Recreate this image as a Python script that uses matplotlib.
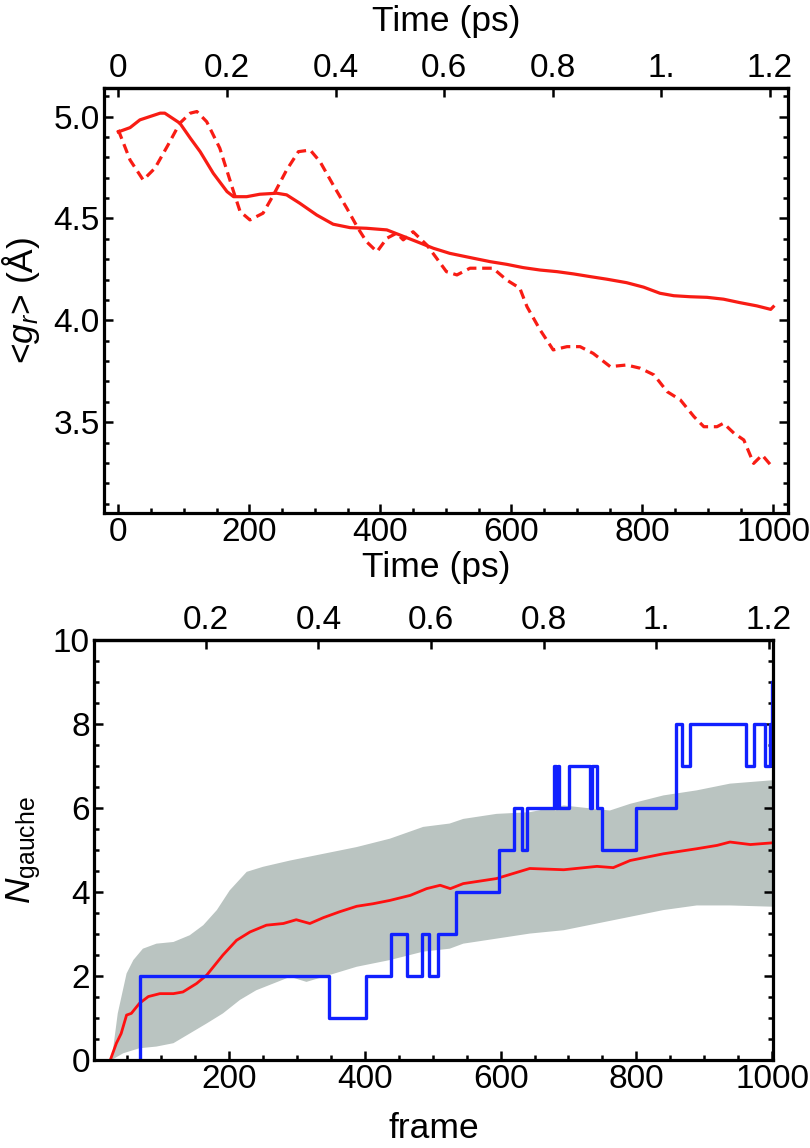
#gr and gauche count vs time, two stacked panels
import matplotlib
matplotlib.use("Agg")
import matplotlib.pyplot as plt
import numpy as np

plt.rcParams['font.family'] = ['Liberation Sans', 'DejaVu Sans']
plt.rcParams['mathtext.fontset'] = 'custom'
plt.rcParams['mathtext.rm'] = 'Liberation Sans'
plt.rcParams['mathtext.it'] = 'Liberation Sans:italic'
plt.rcParams['mathtext.bf'] = 'Liberation Sans:bold'
plt.rcParams['font.size'] = 24
plt.rcParams['axes.labelsize'] = 25.5

# ---- top panel: <g_r> vs time
t_solid = [0, 18, 33, 48, 64, 71, 94, 110, 125, 145, 166, 176, 196, 216, 242, 257, 277,
           303, 328, 354, 379, 410, 430, 456, 481, 506, 542, 568, 593, 618, 644, 670, 695,
           720, 746, 776, 802, 827, 848, 873, 899, 924, 949, 975, 996, 1000]
gr_solid = [4.925, 4.946, 4.984, 5.000, 5.017, 5.017, 4.968, 4.894, 4.828, 4.722, 4.632,
            4.607, 4.607, 4.619, 4.624, 4.616, 4.575, 4.517, 4.472, 4.455, 4.452, 4.444,
            4.419, 4.386, 4.354, 4.329, 4.305, 4.288, 4.275, 4.259, 4.247, 4.239, 4.228,
            4.215, 4.202, 4.185, 4.163, 4.133, 4.121, 4.116, 4.113, 4.104, 4.087, 4.071,
            4.054, 4.067]

t_dash = [0, 18, 38, 56, 76, 94, 110, 120, 135, 155, 176, 186, 201, 221, 237, 257, 275,
          293, 308, 328, 349, 366, 379, 395, 410, 425, 435, 450, 471, 486, 501, 517, 537,
          557, 572, 593, 613, 624, 644, 664, 685, 705, 725, 751, 776, 797, 818, 838, 858,
          879, 894, 914, 924, 940, 955, 970, 983, 996]
gr_dash = [4.935, 4.787, 4.689, 4.747, 4.861, 4.968, 5.017, 5.025, 4.975, 4.845, 4.632,
           4.534, 4.493, 4.526, 4.616, 4.738, 4.828, 4.836, 4.779, 4.665, 4.550, 4.452,
           4.386, 4.337, 4.403, 4.428, 4.395, 4.435, 4.370, 4.305, 4.239, 4.223, 4.256,
           4.256, 4.256, 4.198, 4.158, 4.067, 3.953, 3.855, 3.871, 3.871, 3.838, 3.773,
           3.781, 3.765, 3.732, 3.650, 3.610, 3.527, 3.478, 3.478, 3.495, 3.446, 3.413,
           3.298, 3.339, 3.290]

# ---- bottom panel: N_gauche vs frame
frame_step = [69, 69, 347, 401, 438, 462, 484, 494, 508, 534, 598, 620, 631, 639, 679, 681,
              684, 686, 701, 732, 734, 742, 750, 800, 859, 867, 879, 962, 974, 990, 997, 1000]
n_step = [0, 2, 1, 2, 3, 2, 3, 2, 3, 4, 5, 6, 5, 6, 7, 6,
          7, 6, 7, 6, 7, 6, 5, 6, 8, 7, 8, 7, 8, 7, 8, 9]

frame_mean = [25, 34, 41, 49, 56, 68, 81, 98, 118, 132, 152, 167, 191, 211, 231, 255, 280,
              299, 319, 339, 363, 388, 412, 437, 467, 491, 511, 526, 545, 594, 643, 693,
              742, 766, 791, 840, 889, 919, 938, 968, 1000]
n_mean = [0.0, 0.40, 0.63, 1.07, 1.11, 1.35, 1.51, 1.58, 1.58, 1.62, 1.82, 2.02, 2.50, 2.85,
          3.05, 3.21, 3.25, 3.34, 3.25, 3.39, 3.53, 3.66, 3.72, 3.80, 3.92, 4.08, 4.16,
          4.08, 4.20, 4.32, 4.56, 4.53, 4.61, 4.58, 4.75, 4.91, 5.03, 5.11, 5.19, 5.13, 5.17]

frame_hi = [27, 36, 49, 59, 73, 93, 118, 142, 162, 182, 201, 226, 250, 290, 339, 388, 437,
            486, 525, 545, 594, 643, 693, 761, 791, 840, 889, 938, 1000]
n_hi = [0.0, 1.11, 2.06, 2.38, 2.65, 2.77, 2.81, 2.97, 3.21, 3.57, 4.04, 4.48, 4.60, 4.75,
        4.91, 5.07, 5.27, 5.55, 5.63, 5.74, 5.86, 5.90, 6.06, 5.94, 6.10, 6.30, 6.42, 6.58,
        6.66]
frame_lo = [27, 44, 68, 93, 118, 142, 167, 191, 216, 240, 265, 290, 314, 339, 388, 437,
            486, 525, 545, 594, 643, 693, 742, 791, 840, 889, 938, 1000]
n_lo = [0.0, 0.16, 0.28, 0.32, 0.40, 0.63, 0.87, 1.11, 1.43, 1.66, 1.82, 1.98, 1.86, 1.98,
        2.22, 2.38, 2.58, 2.65, 2.77, 2.89, 3.01, 3.09, 3.25, 3.41, 3.57, 3.68, 3.68, 3.65]

ps_ticks = [0, 0.2, 0.4, 0.6, 0.8, 1.0, 1.2]
ps_labels = ['0', '0.2', '0.4', '0.6', '0.8', '1.', '1.2']
k = 1.2 / 995.0   # ps per frame


def frame_box(ax):
    for s in ax.spines.values():
        s.set_linewidth(2.3)
    ax.tick_params(which='both', direction='in', left=True, right=True, top=False,
                   bottom=True, width=1.8, pad=3)
    ax.tick_params(which='major', length=6.5)
    ax.tick_params(which='minor', length=3.5)


def ps_axis(ax, ticks, labels):
    sec = ax.secondary_xaxis('top', functions=(lambda x: x * k, lambda t: t / k))
    sec.set_xticks(ticks, labels)
    sec.tick_params(direction='in', length=6.5, width=1.8, pad=3)
    sec.spines['top'].set_linewidth(2.3)
    return sec


fig = plt.figure(figsize=(8.1, 11.48), dpi=100)

# top panel
ax1 = fig.add_axes([104/810, 1 - 512.7/1148, 684.3/810, 424.4/1148])
ax1.plot(t_solid, gr_solid, color='#f81c14', lw=2.3)
ax1.plot(t_dash, gr_dash, color='#f81c14', lw=2.3, dashes=(3, 1.8), dash_capstyle='butt')
ax1.set_xlim(-21.8, 1022.9)
ax1.set_ylim(3.056, 5.139)
ax1.set_xticks([0, 200, 400, 600, 800, 1000])
ax1.set_xticks(np.arange(50, 1000, 50), minor=True)
ax1.set_yticks([3.5, 4.0, 4.5, 5.0], ['3.5', '4.0', '4.5', '5.0'])
ax1.set_yticks(np.arange(3.1, 5.15, 0.1), minor=True)
frame_box(ax1)
ax1.set_xlabel('Time (ps)', labelpad=2)
ax1.xaxis.label.set_x(0.485)
ax1.set_ylabel('<$g_r$> (Å)', labelpad=8)
sec1 = ps_axis(ax1, ps_ticks, ps_labels)
sec1.set_xlabel('Time (ps)', labelpad=16)

# bottom panel
ax2 = fig.add_axes([94/810, 1 - 1060/1148, 679.3/810, 420/1148])
ax2.fill(frame_hi + frame_lo[::-1], n_hi + n_lo[::-1], color='#bac4c1', lw=0)
ax2.plot(frame_mean, n_mean, color='#ff1010', lw=2.0)
ax2.plot(frame_step, n_step, color='#1020ff', lw=2.4, drawstyle='steps-post')
ax2.set_xlim(1, 1001.8)
ax2.set_ylim(0, 10)
ax2.set_xticks([200, 400, 600, 800, 1000])
ax2.set_xticks(np.arange(50, 1000, 50), minor=True)
ax2.set_yticks([0, 2, 4, 6, 8, 10])
ax2.set_yticks(np.arange(0.5, 10, 0.5), minor=True)
frame_box(ax2)
ax2.set_xlabel('frame', labelpad=12)
ax2.set_ylabel('$N_{\\mathrm{gauche}}$', labelpad=7)
ps_axis(ax2, ps_ticks[1:], ps_labels[1:])

plt.savefig("out.png", dpi=100)
